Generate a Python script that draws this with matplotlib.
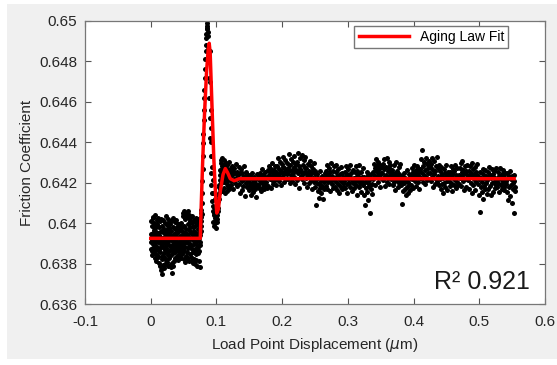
import numpy as np
import matplotlib
matplotlib.use('Agg')
import matplotlib.pyplot as plt
from matplotlib.patches import Rectangle
from matplotlib.ticker import FuncFormatter

# friction data, y values in units of 1e-5 above 0.63
# steady state before the velocity step (x from 0 to 0.0755 um)
pre_x = (0.0, 0.0755)
pre_y = [
    905, 948, 872, 1012, 930, 861, 987, 919, 842, 1025, 953, 896, 1031, 878, 934, 968, 851, 912, 1003, 889,
    941, 826, 975, 1041, 903, 867, 990, 925, 812, 958, 1018, 884, 937, 845, 996, 909, 871, 1027, 950, 833,
    918, 862, 979, 804, 943, 1009, 877, 788, 931, 856, 1022, 899, 769, 962, 915, 838, 748, 986, 902, 821,
    957, 880, 795, 1014, 926, 853, 779, 971, 908, 834, 1002, 945, 866, 798, 929, 1033, 891, 817, 964, 875,
    932, 808, 989, 857, 912, 1019, 843, 786, 951, 898, 827, 976, 919, 863, 1006, 887, 791, 942, 869, 995,
    916, 845, 781, 960, 1011, 874, 802, 938, 893, 756, 983, 921, 850, 790, 1024, 906, 864, 815, 947, 883,
    970, 829, 913, 1008, 858, 936, 894, 822, 1016, 949, 871, 905, 837, 980, 926, 860, 995, 887, 818, 954,
    901, 842, 967, 996, 880, 924, 851, 988, 939, 868, 829, 975, 911, 1002, 856, 933, 889, 961, 846, 920,
    1037, 895, 870, 1049, 944, 823, 986, 915, 1058, 862, 931, 808, 1020, 953, 884, 1043, 907, 839, 972, 1031,
    916, 859, 1052, 948, 826, 995, 903, 1061, 877, 937, 815, 1024, 966, 881, 1039, 920, 849, 983, 1010, 897,
    952, 831, 1029, 889, 958, 812, 1000, 926, 870, 1036, 941, 803, 979, 915, 857, 1017, 934, 824, 961, 895,
    1011, 873, 930, 797, 985, 908, 846, 1024, 952, 819, 893, 1002, 866, 939, 788, 973, 917, 851, 1019, 884,
    946, 811, 990, 925, 862, 1013, 893, 784, 958, 905,
]

# transient after the step
step_x = [
    0.0758, 0.0762, 0.0766, 0.0770, 0.0774, 0.0778, 0.0782, 0.0786, 0.0790, 0.0794,
    0.0798, 0.0802, 0.0806, 0.0810, 0.0814, 0.0818, 0.0822, 0.0826, 0.0830, 0.0834,
    0.0838, 0.0842, 0.0846, 0.0850, 0.0854, 0.0858, 0.0862, 0.0866, 0.0870, 0.0876,
    0.0882, 0.0888, 0.0894, 0.0900, 0.0906, 0.0912, 0.0918, 0.0924, 0.0930, 0.0938,
    0.0946, 0.0954, 0.0962, 0.0970, 0.0978, 0.0986, 0.0994, 0.1002, 0.1010, 0.1018,
    0.1026, 0.1034, 0.1042, 0.1050, 0.1058, 0.1066, 0.1074, 0.1082, 0.1090, 0.1098,
    0.1106, 0.1114, 0.1122, 0.1130, 0.1138, 0.1146, 0.1154, 0.1162, 0.1170, 0.1178,
    0.1186,
    0.0757, 0.0760, 0.0764, 0.0903, 0.0908, 0.0913, 0.0918, 0.0922, 0.0927, 0.0933,
    0.0941, 0.0949, 0.0955, 0.0960, 0.0965, 0.0972, 0.0980, 0.0988, 0.0996, 0.1004,
    0.1012, 0.1020, 0.1028, 0.1036, 0.1044, 0.1052, 0.1060, 0.1068, 0.1076, 0.1084,
    0.1092, 0.1100, 0.1108, 0.1116, 0.1124, 0.1132, 0.1140, 0.1148, 0.1156, 0.1164,
    0.1172, 0.1180, 0.1188, 0.1196,
]
step_y = [
    985, 1030, 1010, 1065, 1045, 1100, 1150, 1210, 1270, 1330,
    1395, 1440, 1510, 1560, 1620, 1660, 1720, 1765, 1810, 1850,
    1880, 1915, 1935, 1960, 1975, 1990, 1965, 1945, 1925, 1870,
    1800, 1720, 1620, 1520, 1420, 1330, 1250, 1190, 1150, 1110,
    1085, 1060, 1040, 1050, 1025, 1010, 1030, 1005, 1040, 1075,
    1110, 1150, 1190, 1215, 1240, 1260, 1300, 1250, 1320, 1270,
    1225, 1290, 1205, 1255, 1230, 1285, 1195, 1240, 1215, 1265,
    1180,
    940, 1050, 960, 1850, 1700, 1560, 1470, 1400, 1330, 1280,
    1215, 1150, 1005, 1080, 985, 1120, 1000, 1065, 975, 1090,
    1020, 1140, 1060, 1180, 1120, 1265, 1170, 1310, 1200, 1285,
    1160, 1240, 1310, 1175, 1280, 1150, 1300, 1215, 1160, 1290,
    1185, 1250, 1305, 1170,
]

# new steady state (x from 0.12 to 0.555 um)
post_x = (0.12, 0.555)
post_y = [
    1228, 1267, 1189, 1252, 1210, 1285, 1237, 1171, 1258, 1219, 1273, 1201, 1246, 1225, 1294, 1183, 1255, 1216, 1240, 1276,
    1192, 1246, 1147, 1219, 1267, 1207, 1165, 1249, 1228, 1183, 1282, 1216, 1135, 1234, 1198, 1255, 1177, 1222, 1240, 1210,
    1206, 1164, 1239, 1188, 1137, 1221, 1173, 1248, 1194, 1155, 1212, 1182, 1230, 1167, 1200, 1128, 1218, 1179, 1242, 1191,
    1191, 1230, 1176, 1248, 1209, 1161, 1224, 1266, 1200, 1179, 1239, 1215, 1167, 1233, 1194, 1254, 1206, 1185, 1227, 1173,
    1261, 1183, 1237, 1285, 1216, 1252, 1174, 1270, 1228, 1300, 1207, 1246, 1195, 1264, 1234, 1282, 1213, 1255, 1189, 1243,
    1283, 1235, 1322, 1211, 1268, 1247, 1304, 1190, 1259, 1292, 1226, 1277, 1328, 1241, 1202, 1271, 1253, 1313, 1217, 1265,
    1244, 1298, 1220, 1274, 1340, 1256, 1199, 1286, 1238, 1319, 1265, 1211, 1301, 1250, 1277, 1229, 1331, 1262, 1193, 1292,
    1263, 1212, 1302, 1347, 1248, 1284, 1176, 1269, 1320, 1233, 1257, 1335, 1218, 1290, 1242, 1311, 1200, 1275, 1251, 1329,
    1221, 1272, 1245, 1179, 1293, 1230, 1257, 1200, 1308, 1239, 1212, 1281, 1170, 1251, 1266, 1224, 1299, 1206, 1242, 1260,
    1180, 1216, 1090, 1201, 1243, 1159, 1225, 1192, 1126, 1258, 1174, 1210, 1147, 1234, 1186, 1219, 1120, 1204, 1168, 1249,
    1227, 1185, 1260, 1212, 1290, 1167, 1239, 1203, 1272, 1221, 1158, 1251, 1209, 1296, 1194, 1233, 1257, 1176, 1218, 1281,
    1222, 1177, 1255, 1204, 1288, 1162, 1231, 1195, 1267, 1150, 1216, 1243, 1186, 1279, 1210, 1171, 1249, 1201, 1228, 1180,
    1210, 1255, 1174, 1231, 1282, 1192, 1243, 1150, 1219, 1267, 1201, 1234, 1288, 1180, 1225, 1249, 1159, 1213, 1261, 1198,
    1224, 1173, 1251, 1206, 1281, 1188, 1233, 1140, 1260, 1212, 1242, 1179, 1287, 1221, 1197, 1254, 1155, 1230, 1209, 1272,
    1188, 1230, 1137, 1206, 1092, 1221, 1173, 1251, 1155, 1197, 1116, 1239, 1182, 1212, 1050, 1224, 1167, 1245, 1194, 1146,
    1255, 1216, 1294, 1240, 1273, 1189, 1261, 1315, 1228, 1282, 1204, 1249, 1303, 1234, 1267, 1180, 1288, 1246, 1222, 1276,
    1249, 1294, 1213, 1267, 1315, 1231, 1186, 1279, 1240, 1324, 1204, 1258, 1222, 1303, 1195, 1273, 1237, 1288, 1216, 1252,
    1223, 1265, 1187, 1241, 1286, 1205, 1250, 1166, 1232, 1301, 1214, 1259, 1178, 1238, 1277, 1199, 1244, 1220, 1292, 1193,
    1191, 1233, 1095, 1209, 1158, 1248, 1197, 1170, 1224, 1137, 1215, 1263, 1179, 1206, 1149, 1242, 1188, 1221, 1164, 1236,
    1233, 1191, 1272, 1218, 1254, 1176, 1242, 1290, 1209, 1227, 1263, 1185, 1248, 1281, 1203, 1236, 1167, 1260, 1221, 1269,
    1267, 1222, 1315, 1249, 1360, 1204, 1282, 1240, 1303, 1195, 1261, 1324, 1228, 1294, 1213, 1273, 1246, 1309, 1219, 1288,
    1250, 1295, 1211, 1274, 1322, 1229, 1178, 1265, 1241, 1307, 1196, 1256, 1283, 1220, 1328, 1205, 1271, 1232, 1289, 1187,
    1216, 1258, 1171, 1234, 1279, 1192, 1243, 1150, 1225, 1267, 1201, 1249, 1180, 1231, 1288, 1207, 1162, 1252, 1219, 1237,
    1209, 1251, 1182, 1233, 1281, 1200, 1242, 1158, 1224, 1266, 1191, 1257, 1215, 1290, 1173, 1239, 1203, 1275, 1227, 1188,
    1240, 1195, 1273, 1222, 1297, 1186, 1255, 1231, 1306, 1207, 1264, 1162, 1246, 1282, 1216, 1258, 1177, 1237, 1288, 1225,
    1213, 1258, 1171, 1237, 1282, 1198, 1249, 1147, 1228, 1300, 1189, 1267, 1219, 1243, 1162, 1276, 1204, 1252, 1231, 1291,
    1192, 1234, 1138, 1216, 1055, 1255, 1177, 1225, 1153, 1204, 1270, 1120, 1243, 1186, 1222, 1168, 1261, 1201, 1231, 1144,
    1212, 1254, 1167, 1233, 1278, 1182, 1239, 1140, 1221, 1266, 1197, 1245, 1155, 1230, 1203, 1257, 1176, 1224, 1272, 1191,
    1214, 1178, 1253, 1199, 1235, 1154, 1226, 1271, 1187, 1220, 1169, 1244, 1205, 1262, 1181, 1229, 1163, 1211, 1250, 1193,
    1207, 1246, 1153, 1222, 1114, 1234, 1180, 1258, 1135, 1216, 1189, 1102, 1231, 1201, 1168, 1240, 1050, 1210, 1177, 1159,
]

# aging law fit curve
fit_x = [0.0, 0.0755, 0.0765, 0.079, 0.082, 0.085, 0.0875, 0.089, 0.0905, 0.093,
         0.096, 0.099, 0.1005, 0.103, 0.106, 0.11, 0.1135, 0.117, 0.121, 0.127,
         0.135, 0.553]
fit_y = [0.63925, 0.63925, 0.6405, 0.6430, 0.6455, 0.6475, 0.6486, 0.6489, 0.6484, 0.6460,
         0.6432, 0.6412, 0.6405, 0.6407, 0.6416, 0.6424, 0.6427, 0.6425, 0.6422, 0.6421,
         0.6422, 0.6422]

r2 = 0.921


def to_mu(v):
    return 0.63 + np.array(v) * 1e-5


def main():
    plt.rcParams['font.family'] = ['Liberation Sans', 'DejaVu Sans']
    fig = plt.figure(figsize=(5.57, 3.65), dpi=100, facecolor='white')
    # gray figure window area (thin white margin left, top and bottom)
    fig.patches.append(Rectangle((0.0126, 0.0164), 0.99, 0.9726, transform=fig.transFigure,
                                 facecolor='#f0f0f0', edgecolor='none', zorder=-10))
    ax = fig.add_axes([0.1526, 0.167, 0.8259, 0.7755])

    xa = np.linspace(pre_x[0], pre_x[1], len(pre_y))
    xb = np.linspace(post_x[0], post_x[1], len(post_y))
    dots = dict(ls='none', marker='o', ms=3.6, mfc='black', mec='black', mew=0)
    ax.plot(xa, to_mu(pre_y), **dots)
    ax.plot(step_x, to_mu(step_y), **dots)
    ax.plot(xb, to_mu(post_y), **dots)

    ax.plot(fit_x, fit_y, color='#ff0000', lw=2.5, label='Aging Law Fit')

    ax.set_xlim(-0.1, 0.6)
    ax.set_ylim(0.636, 0.65)
    ax.set_xticks(np.arange(-0.1, 0.61, 0.1))
    ax.set_yticks(np.arange(0.636, 0.6501, 0.002))
    fmt = FuncFormatter(lambda v, p: '%g' % round(v, 4))
    ax.xaxis.set_major_formatter(fmt)
    ax.yaxis.set_major_formatter(fmt)
    ax.tick_params(direction='in', length=4, width=0.8, colors='#555555',
                   labelcolor='#262626', labelsize=11, top=True, right=True)
    ax.tick_params(axis='x', pad=8)
    ax.tick_params(axis='y', pad=5.5)
    for s in ax.spines.values():
        s.set_color('#777777')
        s.set_linewidth(0.9)

    ax.set_xlabel(r'Load Point Displacement ($\mu$m)', fontsize=11, color='#262626', labelpad=5)
    ax.set_ylabel('Friction Coefficient', fontsize=11, color='#262626', labelpad=4)

    ax.legend(loc='upper right', bbox_to_anchor=(0.92, 0.982), fontsize=10,
              handlelength=3.6, fancybox=False, edgecolor='#777777',
              framealpha=1, borderpad=0.3, borderaxespad=0)

    ax.text(0.967, 0.053, 'R² %.3f' % r2, transform=ax.transAxes,
            ha='right', va='baseline', fontsize=18, color='#1a1a1a')

    fig.savefig('out.png', dpi=100, facecolor=fig.get_facecolor())


if __name__ == '__main__':
    main()
